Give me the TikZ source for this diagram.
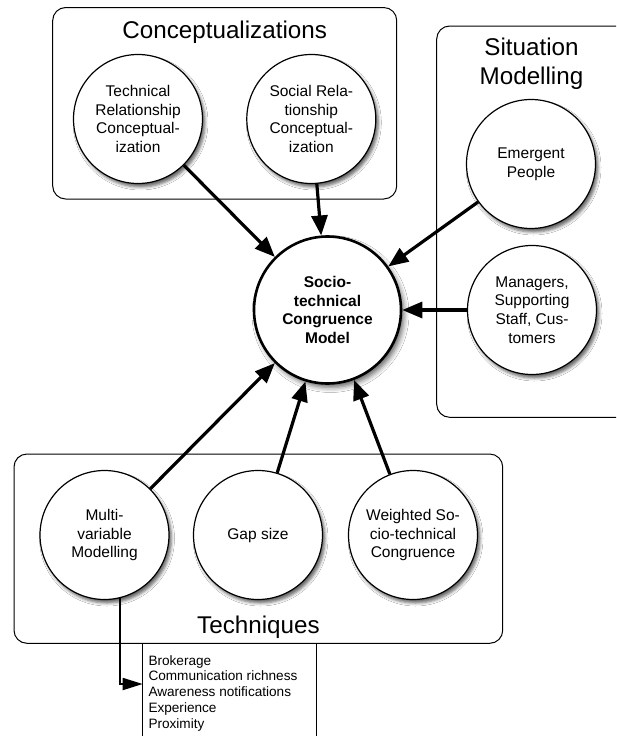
\documentclass[tikz,border=0pt]{standalone}
\usepackage{fontspec}
\setmainfont{Liberation Sans}
\usetikzlibrary{arrows.meta,shadows.blur}
\begin{document}
\begin{tikzpicture}[x=1pt,y=-1pt,
  group/.style={draw=black, line width=1pt, rounded corners=13pt, fill=white},
  title/.style={font=\fontsize{24.2}{29.5}\selectfont, align=center, inner sep=0pt},
  bubble/.style={circle, draw=black, fill=white, inner sep=0pt, align=center},
  topic/.style={bubble, line width=1.2pt, minimum size=129pt,
    font=\fontsize{15.5}{18.8}\selectfont,
    blur shadow={shadow xshift=2.5pt, shadow yshift=-3.5pt, shadow blur radius=3pt, shadow opacity=60}},
  core/.style={bubble, line width=2.6pt, minimum size=147pt,
    font=\bfseries\fontsize{15.5}{18.8}\selectfont,
    blur shadow={shadow xshift=3pt, shadow yshift=-4pt, shadow blur radius=5pt, shadow opacity=60}},
  feed/.style={line width=3.2pt, -{Triangle[length=20pt,width=16pt]}},
  detail/.style={line width=1.8pt, -{Triangle[length=20pt,width=12pt]}},
  listtext/.style={inner sep=0pt, align=left, font=\fontsize{13.6}{15.9}\selectfont},
]
\clip (0,0) rectangle (616,736);
\fill[white] (0,0) rectangle (616,736);

% grouping boxes
\draw[group] (52.7,7.5) rectangle (396.7,199);
\node[title, anchor=base] (ctitle) at (224.7,38.3) {Conceptualizations};

\draw[group] (436.7,26) rectangle (660,417.3);
\node[title] (stitle) at (531.5,63.5) {Situation\\Modelling};

% list of modelling variables, partly hidden behind the techniques box
\draw[line width=1pt] (142.7,600) rectangle (316,760);
\node[listtext, anchor=north west] (traits) at (148.3,655)
  {Brokerage\\Communication richness\\Awareness notifications\\Experience\\Proximity};

\draw[group] (14,454) rectangle (502.7,643.3);
\node[title, anchor=base] (ttitle) at (258.4,633.5) {Techniques};

% circles
\node[topic] (trc) at (138,119) {Technical\\Relationship\\Conceptual-\\ization};
\node[topic] (src) at (311.3,119) {Social Rela-\\tionship\\Conceptual-\\ization};
\node[topic] (emg) at (531,164) {Emergent\\People};
\node[topic] (mgr) at (532,310) {Managers,\\Supporting\\Staff, Cus-\\tomers};
\node[core] (stc) at (327.5,310) {Socio-\\technical\\Congruence\\Model};
\node[topic] (mvm) at (104.5,535) {Multi-\\variable\\Modelling};
\node[topic] (gap) at (258,535) {Gap size};
\node[topic] (wst) at (413,535) {Weighted So-\\cio-technical\\Congruence};

% connectors
\draw[feed] (trc) -- (stc);
\draw[feed] (src) -- (stc);
\draw[feed] (emg) -- (stc);
\draw[feed] (mgr) -- (stc);
\draw[feed] (mvm) -- (stc);
\draw[feed] (gap) -- (stc);
\draw[feed] (wst) -- (stc);

\coordinate (listin) at (142.7,684);
\draw[detail] (mvm.-76) |- (listin);
\end{tikzpicture}
\end{document}
